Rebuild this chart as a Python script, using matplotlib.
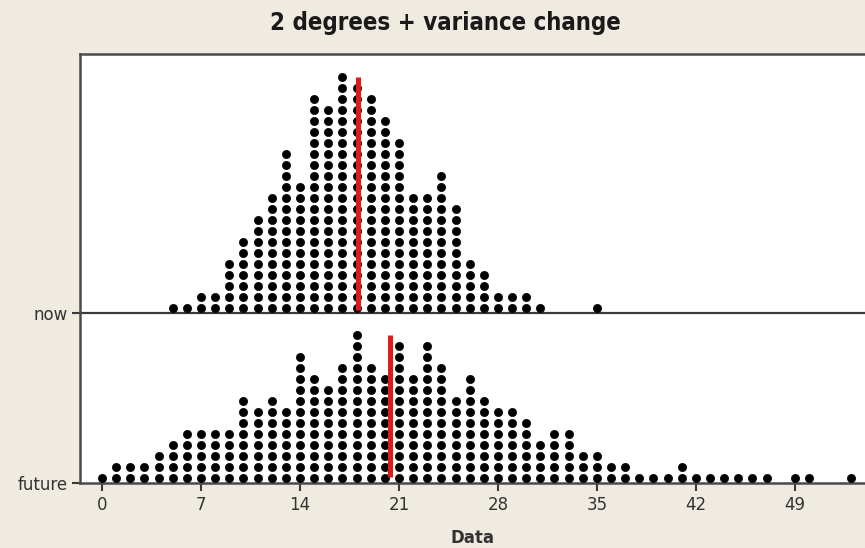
import matplotlib
matplotlib.use("Agg")
import matplotlib.pyplot as plt

# ---- data ----
title = "2 degrees + variance change"
groups = ["future", "now"]
xlabel = "Data"
xticks = [0, 7, 14, 21, 28, 35, 42, 49]

now_values = [5, 6, 7, 8, 9, 10, 11, 12, 13, 14, 15, 16, 17, 18, 19, 20,
              21, 22, 23, 24, 25, 26, 27, 28, 29, 30, 31, 35]
now_counts = [1, 1, 2, 2, 5, 7, 9, 11, 15, 12, 20, 19, 22, 21, 20, 18,
              16, 11, 11, 13, 10, 5, 4, 2, 2, 2, 1, 1]

future_values = list(range(0, 48)) + [49, 50, 53]
future_counts = [1, 2, 2, 2, 3, 4, 5, 5, 5, 5, 8, 7, 8, 7, 12, 10,
                 9, 11, 14, 11, 10, 13, 10, 13, 11, 8, 10, 8, 7, 7, 6, 4,
                 5, 5, 3, 3, 2, 2, 1, 1, 1, 2, 1, 1, 1, 1, 1, 1,
                 1, 1, 1]

now_mean = 18.1
future_mean = 20.4
now_mean_height = 21.2     # in dot rows
future_mean_height = 12.9

# ---- layout ----
W, H, DPI = 865, 548, 100
fig = plt.figure(figsize=(W / DPI, H / DPI), dpi=DPI)
fig.patch.set_facecolor("#efebe1")

left_px, right_px, top_px, bottom_px = 80, 880, 54, 483
ax = fig.add_axes([left_px / W, 1 - bottom_px / H,
                   (right_px - left_px) / W, (bottom_px - top_px) / H])
ax.set_facecolor("white")

px_per_unit = 14.14
zero_px = 102
ax.set_xlim((left_px - zero_px) / px_per_unit, (right_px - zero_px) / px_per_unit)
pitch = 11.0
ax.set_ylim(0, (bottom_px - top_px) / pitch)

base_future = 0.0
base_now = (bottom_px - 313) / pitch
offset = 0.45

def draw(values, counts, base):
    xs, ys = [], []
    for v, c in zip(values, counts):
        for i in range(c):
            xs.append(v)
            ys.append(base + offset + i)
    ax.plot(xs, ys, "o", color="black", ms=5.9, mec="black", mew=0.5, zorder=3)

draw(now_values, now_counts, base_now)
draw(future_values, future_counts, base_future)

# separator / baseline for "now"
ax.axhline(base_now, color="#3a3a3a", lw=1.6, zorder=2)

# mean lines
ax.plot([now_mean, now_mean], [base_now + 0.25, base_now + 0.25 + now_mean_height],
        color="#e0191b", lw=3.6, zorder=4, solid_capstyle="butt")
ax.plot([future_mean, future_mean], [base_future + 0.55, base_future + 0.55 + future_mean_height],
        color="#e0191b", lw=3.6, zorder=4, solid_capstyle="butt")

for s in ax.spines.values():
    s.set_color("#4a4a4a")
    s.set_linewidth(1.8)
ax.spines["right"].set_visible(False)

ax.set_xticks(xticks)
ax.set_xticklabels([str(t) for t in xticks])
ax.set_yticks([base_future, base_now])
ax.set_yticklabels(groups)
ax.tick_params(axis="both", direction="out", length=6, width=1.5, color="#3a3a3a",
               labelsize=12, labelcolor="#333333")
ax.tick_params(axis="x", pad=3)
ax.tick_params(axis="y", pad=3)

ax.set_xlabel(xlabel, fontsize=12, fontweight="bold", color="#333333", labelpad=2)
ax.xaxis.set_label_coords((472 - left_px) / (right_px - left_px), -(537 - bottom_px - 8) / (bottom_px - top_px))

fig.text(445 / W, 1 - 23 / H, title, ha="center", va="center",
         fontsize=17.2, fontweight="bold", fontstretch="condensed", color="#1a1a1a")

fig.savefig("out.png", dpi=DPI, facecolor=fig.get_facecolor())
